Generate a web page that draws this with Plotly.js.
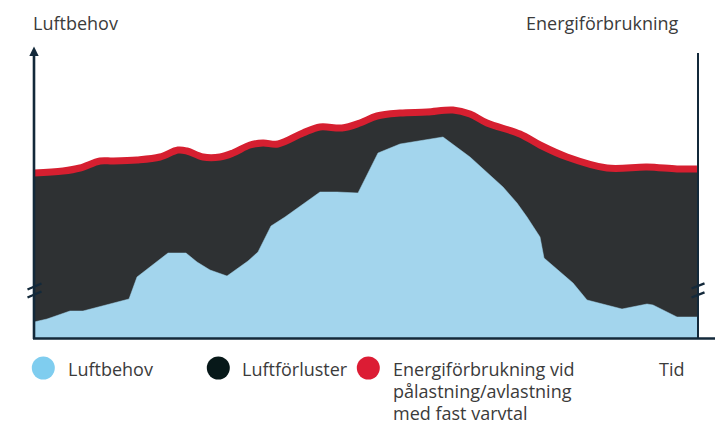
<!DOCTYPE html>
<html>
<head>
<meta charset="utf-8">
<script src="https://cdn.plot.ly/plotly-3.0.1.min.js"></script>
<style>html,body{margin:0;padding:0;background:#fff;}#chart{width:715px;height:422px;}</style>
</head>
<body>
<div id="chart"></div>
<script>
// Time positions and values (arbitrary units)
var luftbehovX = [0, 13, 36, 49, 95, 103, 134, 152, 163, 176, 193, 214, 224, 237, 251, 286, 303, 324, 344, 353, 366, 409, 436, 469, 483, 493, 506, 510, 539, 553, 588, 613, 619, 643, 663];
var luftbehovY = [16, 19, 27, 27, 39, 61, 85, 85, 76, 68, 62, 77, 86, 112, 121, 146, 146, 145, 185, 189, 194, 201, 181, 151, 135, 121, 101, 80, 55, 38, 29, 34, 33, 21, 21];

var energiX = [0, 29, 46, 66, 79, 103, 126, 144, 153, 169, 186, 199, 216, 229, 244, 269, 286, 308, 326, 343, 366, 393, 419, 436, 453, 486, 506, 533, 573, 613, 643, 663];
var energiY = [165, 167, 170, 177, 177, 178, 181, 188, 187, 181, 181, 185, 193, 195, 194, 205, 211, 210, 215, 222, 225, 226, 228, 224, 215, 204, 193, 181, 170, 171, 169, 169];

var legendLabels = ["Luftbehov", "Luftförluster", ["Energiförbrukning vid", "pålastning/avlastning", "med fast varvtal"]];
var leftAxisTitle = "Luftbehov";
var rightAxisTitle = "Energiförbrukning";
var xAxisTitle = "Tid";

var W = 715, H = 422, L = 34, R = 698, T = 48, B = 338;
function px(x){ return (x - L) / (R - L); }
function py(y){ return (B - y) / (B - T); }

var darkCol = '#2e3133', blueCol = '#a3d5ed', redCol = '#d61f30', axisCol = '#13293a', textCol = '#3b3b3b';
var FONT = '"Open Sans", sans-serif';

var traces = [
  {x: energiX, y: energiY, type: 'scatter', mode: 'lines', fill: 'tozeroy', fillcolor: darkCol,
   line: {width: 0, shape: 'spline', color: darkCol}, hoverinfo: 'skip'},
  {x: luftbehovX, y: luftbehovY, type: 'scatter', mode: 'lines', fill: 'tozeroy', fillcolor: blueCol,
   line: {width: 0.5, shape: 'linear', color: blueCol}, hoverinfo: 'skip'},
  {x: energiX, y: energiY, type: 'scatter', mode: 'lines',
   line: {width: 7, shape: 'spline', color: redCol}, hoverinfo: 'skip'}
];

var shapes = [
  // left axis
  {type: 'line', xref: 'paper', yref: 'paper', x0: px(34), x1: px(34), y0: py(339), y1: py(54), line: {color: axisCol, width: 2.6}},
  {type: 'path', xref: 'paper', yref: 'paper', path: 'M ' + px(34) + ' ' + py(46.5) + ' L ' + px(29.3) + ' ' + py(56) + ' L ' + px(38.7) + ' ' + py(56) + ' Z', fillcolor: axisCol, line: {width: 0}},
  // right axis
  {type: 'line', xref: 'paper', yref: 'paper', x0: px(698), x1: px(698), y0: py(339), y1: py(53), line: {color: axisCol, width: 2}},
  // x axis
  {type: 'line', xref: 'paper', yref: 'paper', x0: px(33), x1: px(715), y0: py(338.5), y1: py(338.5), line: {color: axisCol, width: 2.6}},
  // break marks left
  {type: 'line', xref: 'paper', yref: 'paper', x0: px(27.5), x1: px(41.5), y0: py(289.5), y1: py(283.5), line: {color: axisCol, width: 2.4}},
  {type: 'line', xref: 'paper', yref: 'paper', x0: px(27.5), x1: px(41.5), y0: py(297.5), y1: py(291.5), line: {color: axisCol, width: 2.4}},
  // break marks right
  {type: 'line', xref: 'paper', yref: 'paper', x0: px(691.5), x1: px(704.5), y0: py(288.5), y1: py(283.3), line: {color: axisCol, width: 2.4}},
  {type: 'line', xref: 'paper', yref: 'paper', x0: px(691.5), x1: px(704.5), y0: py(297.5), y1: py(292.3), line: {color: axisCol, width: 2.4}}
];

// legend circles
var legendCols = ['#7fcdef', '#071819', '#dc1c34'];
var legendCx = [43.3, 218.3, 368.3];
for (var i = 0; i < 3; i++) {
  shapes.push({type: 'circle', xref: 'paper', yref: 'paper', xsizemode: 'pixel', ysizemode: 'pixel',
    xanchor: px(legendCx[i]), yanchor: py(368), x0: -11.5, x1: 11.5, y0: -11.5, y1: 11.5,
    fillcolor: legendCols[i], line: {width: 0}});
}

function ann(text, x, y, xanchor){
  return {text: text, xref: 'paper', yref: 'paper', x: px(x), y: py(y), xanchor: xanchor, yanchor: 'middle',
    showarrow: false, font: {family: FONT, size: 18, color: textCol}};
}
var annotations = [
  ann(leftAxisTitle, 31, 23, 'left'),
  ann(rightAxisTitle, 681, 23, 'right'),
  ann(xAxisTitle, 657, 369, 'left'),
  ann(legendLabels[0], 65.5, 369, 'left'),
  ann(legendLabels[1], 239.5, 369, 'left'),
  ann(legendLabels[2][0], 390.5, 369, 'left'),
  ann(legendLabels[2][1], 390.5, 391, 'left'),
  ann(legendLabels[2][2], 390.5, 413, 'left')
];

var layout = {
  width: W, height: H,
  margin: {l: L, r: W - R, t: T, b: H - B, pad: 0},
  paper_bgcolor: '#ffffff', plot_bgcolor: '#ffffff',
  showlegend: false,
  xaxis: {range: [0, 664], visible: false, fixedrange: true},
  yaxis: {range: [0, 290], visible: false, fixedrange: true},
  shapes: shapes,
  annotations: annotations
};

Plotly.newPlot('chart', traces, layout, {staticPlot: true, displayModeBar: false});
</script>
</body>
</html>
